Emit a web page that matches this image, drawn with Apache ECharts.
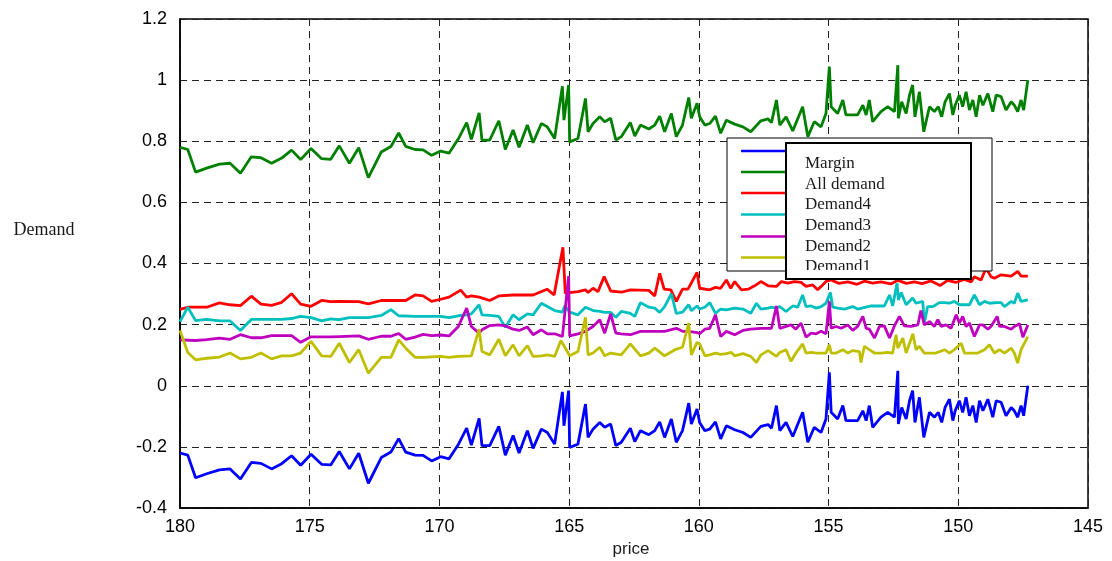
<!DOCTYPE html>
<html>
<head>
<meta charset="utf-8">
<script src="https://cdn.jsdelivr.net/npm/echarts@6/dist/echarts.min.js"></script>
<style>
html,body{margin:0;padding:0;background:#fff;}
#chart{width:1112px;height:561px;}
</style>
</head>
<body>
<div id="chart"></div>
<script>
// ---- data: [price, value] pairs ----
const seriesNames = ['Margin', 'All demand', 'Demand4', 'Demand3', 'Demand2', 'Demand1'];
const xTicks = [180, 175, 170, 165, 160, 155, 150, 145];
const yTicks = [-0.4, -0.2, 0, 0.2, 0.4, 0.6, 0.8, 1, 1.2];

const allDemand = [[180.00,0.780],[179.70,0.773],[179.40,0.699],[178.97,0.712],[178.48,0.725],[178.07,0.728],[177.67,0.695],[177.25,0.749],[176.88,0.746],[176.47,0.728],[176.08,0.745],[175.70,0.771],[175.35,0.740],[174.95,0.776],[174.54,0.743],[174.19,0.741],[173.86,0.785],[173.47,0.728],[173.11,0.779],[172.74,0.681],[172.24,0.765],[171.87,0.783],[171.57,0.827],[171.30,0.783],[170.94,0.773],[170.63,0.772],[170.30,0.754],[169.95,0.768],[169.63,0.761],[169.27,0.808],[168.95,0.861],[168.77,0.806],[168.47,0.893],[168.36,0.804],[168.06,0.804],[167.71,0.867],[167.46,0.773],[167.16,0.837],[166.93,0.780],[166.61,0.853],[166.39,0.795],[166.07,0.858],[165.84,0.847],[165.56,0.809],[165.26,0.980],[165.20,0.869],[165.02,0.984],[164.98,0.798],[164.66,0.809],[164.37,0.940],[164.27,0.831],[164.08,0.858],[163.82,0.880],[163.63,0.864],[163.40,0.875],[163.20,0.804],[162.99,0.815],[162.64,0.861],[162.47,0.817],[162.25,0.853],[161.93,0.840],[161.70,0.853],[161.51,0.882],[161.32,0.831],[161.06,0.891],[160.87,0.815],[160.63,0.853],[160.39,0.943],[160.29,0.875],[160.07,0.924],[159.97,0.880],[159.77,0.853],[159.58,0.858],[159.36,0.882],[159.16,0.826],[158.94,0.869],[158.62,0.856],[158.30,0.847],[158.00,0.831],[157.61,0.867],[157.33,0.873],[157.20,0.861],[157.01,0.935],[156.88,0.853],[156.64,0.880],[156.38,0.834],[156.00,0.913],[155.80,0.815],[155.55,0.864],[155.29,0.847],[155.10,0.891],[154.97,1.044],[154.90,0.913],[154.65,0.891],[154.45,0.935],[154.33,0.886],[153.88,0.886],[153.68,0.918],[153.55,0.886],[153.43,0.935],[153.30,0.864],[152.98,0.897],[152.72,0.913],[152.46,0.897],[152.33,1.049],[152.31,0.875],[152.18,0.929],[152.01,0.891],[151.88,0.951],[151.76,0.984],[151.67,0.880],[151.50,0.962],[151.33,0.831],[151.11,0.913],[150.92,0.897],[150.77,0.913],[150.64,0.880],[150.51,0.929],[150.34,0.956],[150.21,0.886],[150.12,0.918],[149.96,0.951],[149.83,0.913],[149.70,0.962],[149.57,0.902],[149.44,0.935],[149.31,0.880],[149.18,0.951],[149.05,0.918],[148.86,0.956],[148.67,0.897],[148.54,0.951],[148.35,0.946],[148.16,0.902],[147.96,0.929],[147.84,0.918],[147.71,0.897],[147.58,0.935],[147.48,0.902],[147.32,1.000]];

const margin = [[180.00,-0.220],[179.70,-0.227],[179.40,-0.301],[178.97,-0.288],[178.48,-0.275],[178.07,-0.272],[177.67,-0.305],[177.25,-0.251],[176.88,-0.254],[176.47,-0.272],[176.08,-0.255],[175.70,-0.229],[175.35,-0.260],[174.95,-0.224],[174.54,-0.257],[174.19,-0.259],[173.86,-0.215],[173.47,-0.272],[173.11,-0.221],[172.74,-0.319],[172.24,-0.235],[171.87,-0.217],[171.57,-0.173],[171.30,-0.217],[170.94,-0.227],[170.63,-0.228],[170.30,-0.246],[169.95,-0.232],[169.63,-0.239],[169.27,-0.192],[168.95,-0.139],[168.77,-0.194],[168.47,-0.107],[168.36,-0.196],[168.06,-0.196],[167.71,-0.133],[167.46,-0.227],[167.16,-0.163],[166.93,-0.220],[166.61,-0.147],[166.39,-0.205],[166.07,-0.142],[165.84,-0.153],[165.56,-0.191],[165.26,-0.020],[165.20,-0.131],[165.02,-0.016],[164.98,-0.202],[164.66,-0.191],[164.37,-0.060],[164.27,-0.169],[164.08,-0.142],[163.82,-0.120],[163.63,-0.136],[163.40,-0.125],[163.20,-0.196],[162.99,-0.185],[162.64,-0.139],[162.47,-0.183],[162.25,-0.147],[161.93,-0.160],[161.70,-0.147],[161.51,-0.118],[161.32,-0.169],[161.06,-0.109],[160.87,-0.185],[160.63,-0.147],[160.39,-0.057],[160.29,-0.125],[160.07,-0.076],[159.97,-0.120],[159.77,-0.147],[159.58,-0.142],[159.36,-0.118],[159.16,-0.174],[158.94,-0.131],[158.62,-0.144],[158.30,-0.153],[158.00,-0.169],[157.61,-0.133],[157.33,-0.127],[157.20,-0.139],[157.01,-0.065],[156.88,-0.147],[156.64,-0.120],[156.38,-0.166],[156.00,-0.087],[155.80,-0.185],[155.55,-0.136],[155.29,-0.153],[155.10,-0.109],[154.97,0.044],[154.90,-0.087],[154.65,-0.109],[154.45,-0.065],[154.33,-0.114],[153.88,-0.114],[153.68,-0.082],[153.55,-0.114],[153.43,-0.065],[153.30,-0.136],[152.98,-0.103],[152.72,-0.087],[152.46,-0.103],[152.33,0.049],[152.31,-0.125],[152.18,-0.071],[152.01,-0.109],[151.88,-0.049],[151.76,-0.016],[151.67,-0.120],[151.50,-0.038],[151.33,-0.169],[151.11,-0.087],[150.92,-0.103],[150.77,-0.087],[150.64,-0.120],[150.51,-0.071],[150.34,-0.044],[150.21,-0.114],[150.12,-0.082],[149.96,-0.049],[149.83,-0.087],[149.70,-0.038],[149.57,-0.098],[149.44,-0.065],[149.31,-0.120],[149.18,-0.049],[149.05,-0.082],[148.86,-0.044],[148.67,-0.103],[148.54,-0.049],[148.35,-0.054],[148.16,-0.098],[147.96,-0.071],[147.84,-0.082],[147.71,-0.103],[147.58,-0.065],[147.48,-0.098],[147.32,0.000]];

const demand4 = [[180.00,0.250],[179.68,0.257],[178.97,0.257],[178.48,0.271],[178.07,0.265],[177.67,0.262],[177.25,0.293],[176.88,0.267],[176.47,0.263],[176.08,0.273],[175.70,0.301],[175.35,0.267],[174.95,0.260],[174.54,0.279],[174.19,0.275],[173.86,0.276],[173.11,0.275],[172.74,0.268],[172.24,0.279],[171.30,0.279],[170.94,0.297],[170.63,0.294],[170.30,0.276],[169.95,0.283],[169.63,0.290],[169.18,0.313],[168.95,0.290],[168.77,0.294],[168.47,0.290],[168.06,0.279],[167.71,0.294],[167.16,0.297],[166.39,0.297],[165.85,0.316],[165.58,0.297],[165.24,0.453],[165.15,0.303],[164.66,0.308],[164.37,0.314],[164.27,0.305],[164.08,0.319],[163.89,0.308],[163.65,0.357],[163.40,0.310],[162.99,0.306],[162.64,0.314],[161.93,0.312],[161.70,0.294],[161.51,0.368],[161.34,0.316],[161.08,0.314],[160.87,0.276],[160.63,0.316],[160.42,0.316],[160.07,0.371],[159.97,0.319],[159.58,0.314],[159.36,0.322],[159.16,0.319],[158.94,0.346],[158.77,0.319],[158.62,0.341],[158.36,0.314],[158.10,0.316],[157.85,0.327],[157.61,0.341],[157.33,0.327],[157.01,0.325],[156.82,0.341],[156.57,0.336],[156.32,0.341],[156.06,0.338],[155.87,0.325],[155.61,0.330],[155.42,0.314],[155.23,0.330],[155.10,0.341],[154.90,0.346],[154.60,0.335],[154.26,0.340],[153.90,0.332],[153.62,0.342],[153.30,0.336],[152.98,0.340],[152.60,0.333],[152.33,0.345],[152.00,0.335],[151.69,0.340],[151.40,0.334],[151.05,0.343],[150.70,0.328],[150.41,0.345],[150.10,0.338],[149.77,0.348],[149.50,0.340],[149.38,0.357],[149.12,0.346],[148.93,0.385],[148.74,0.357],[148.61,0.352],[148.35,0.363],[147.96,0.359],[147.71,0.374],[147.58,0.359],[147.32,0.359]];

const demand3 = [[180.00,0.210],[179.70,0.257],[179.40,0.213],[178.97,0.217],[178.48,0.212],[178.07,0.212],[177.67,0.181],[177.25,0.217],[176.47,0.217],[176.08,0.217],[175.70,0.220],[175.35,0.227],[174.95,0.223],[174.54,0.212],[174.19,0.219],[173.86,0.216],[173.47,0.223],[172.74,0.223],[172.24,0.230],[171.87,0.249],[171.57,0.229],[170.94,0.227],[169.95,0.227],[169.63,0.223],[169.27,0.229],[168.95,0.232],[168.77,0.235],[168.47,0.265],[168.36,0.232],[168.06,0.230],[167.71,0.227],[167.46,0.191],[167.16,0.232],[166.93,0.216],[166.61,0.235],[166.39,0.232],[166.07,0.270],[165.84,0.259],[165.56,0.246],[165.26,0.241],[165.17,0.261],[164.98,0.241],[164.66,0.232],[164.37,0.257],[164.08,0.246],[163.82,0.243],[163.63,0.240],[163.40,0.240],[163.20,0.224],[162.99,0.243],[162.64,0.237],[162.47,0.227],[162.25,0.272],[161.93,0.257],[161.70,0.254],[161.51,0.240],[161.32,0.259],[161.06,0.301],[160.87,0.237],[160.63,0.241],[160.39,0.265],[160.29,0.246],[160.07,0.261],[159.97,0.251],[159.77,0.257],[159.58,0.272],[159.36,0.237],[159.16,0.251],[158.94,0.248],[158.62,0.254],[158.30,0.251],[158.00,0.237],[157.78,0.270],[157.61,0.251],[157.33,0.254],[157.20,0.257],[157.01,0.254],[156.88,0.259],[156.64,0.243],[156.38,0.261],[156.19,0.257],[156.00,0.297],[155.87,0.259],[155.67,0.261],[155.48,0.254],[155.29,0.259],[155.10,0.270],[154.93,0.305],[154.84,0.257],[154.65,0.254],[154.39,0.251],[154.07,0.259],[153.88,0.251],[153.36,0.261],[152.85,0.261],[152.65,0.297],[152.53,0.261],[152.36,0.335],[152.31,0.281],[152.20,0.305],[152.01,0.265],[151.76,0.287],[151.63,0.270],[151.37,0.276],[151.31,0.205],[151.18,0.259],[150.98,0.259],[150.73,0.272],[150.53,0.272],[150.34,0.270],[150.15,0.276],[149.96,0.265],[149.57,0.265],[149.38,0.297],[149.18,0.265],[148.99,0.276],[148.80,0.270],[148.54,0.272],[148.35,0.272],[148.22,0.259],[147.96,0.276],[147.84,0.270],[147.71,0.303],[147.58,0.276],[147.32,0.281]];

const demand2 = [[180.00,0.150],[179.40,0.148],[178.97,0.151],[178.48,0.156],[178.07,0.152],[177.67,0.167],[177.25,0.157],[176.88,0.157],[176.47,0.164],[175.70,0.164],[175.35,0.142],[174.95,0.160],[174.19,0.160],[173.86,0.161],[173.11,0.163],[172.74,0.152],[172.24,0.162],[171.87,0.162],[171.57,0.171],[171.30,0.152],[170.94,0.159],[170.63,0.168],[170.30,0.164],[169.95,0.166],[169.63,0.163],[169.27,0.194],[168.95,0.254],[168.77,0.194],[168.47,0.172],[168.36,0.183],[168.06,0.197],[167.71,0.199],[167.46,0.196],[167.16,0.185],[166.93,0.181],[166.61,0.192],[166.39,0.167],[166.07,0.183],[165.84,0.170],[165.56,0.170],[165.26,0.161],[165.02,0.359],[164.98,0.163],[164.66,0.170],[164.37,0.178],[164.08,0.194],[163.82,0.216],[163.63,0.172],[163.40,0.235],[163.20,0.172],[162.99,0.170],[162.64,0.167],[162.25,0.178],[161.70,0.178],[161.32,0.178],[160.87,0.188],[160.63,0.178],[160.39,0.178],[160.07,0.174],[159.97,0.170],[159.77,0.185],[159.58,0.188],[159.36,0.232],[159.16,0.161],[158.94,0.178],[158.62,0.167],[158.30,0.181],[158.00,0.185],[157.61,0.188],[157.20,0.188],[157.01,0.261],[156.88,0.188],[156.64,0.194],[156.45,0.199],[156.26,0.185],[156.06,0.205],[155.87,0.159],[155.67,0.172],[155.48,0.170],[155.29,0.178],[155.10,0.170],[154.97,0.276],[154.90,0.188],[154.71,0.194],[154.52,0.188],[154.26,0.199],[154.07,0.181],[153.88,0.194],[153.68,0.227],[153.55,0.188],[153.43,0.185],[153.23,0.156],[153.04,0.194],[152.85,0.196],[152.65,0.156],[152.46,0.196],[152.27,0.227],[152.08,0.196],[151.82,0.194],[151.56,0.199],[151.44,0.246],[151.31,0.199],[151.11,0.210],[150.92,0.194],[150.79,0.216],[150.66,0.194],[150.47,0.199],[150.28,0.188],[150.08,0.232],[149.96,0.205],[149.83,0.227],[149.70,0.194],[149.57,0.205],[149.38,0.161],[149.18,0.199],[149.06,0.199],[148.86,0.185],[148.74,0.194],[148.50,0.227],[148.41,0.194],[148.22,0.194],[147.96,0.185],[147.84,0.194],[147.64,0.203],[147.51,0.159],[147.32,0.199]];

const demand1 = [[180.00,0.181],[179.70,0.109],[179.40,0.085],[178.97,0.090],[178.48,0.094],[178.07,0.107],[177.67,0.088],[177.25,0.093],[176.88,0.107],[176.47,0.088],[176.08,0.098],[175.70,0.098],[175.35,0.107],[174.95,0.145],[174.54,0.098],[174.19,0.096],[173.86,0.139],[173.47,0.076],[173.11,0.118],[172.74,0.041],[172.24,0.093],[171.87,0.093],[171.57,0.150],[171.30,0.123],[170.94,0.093],[170.63,0.093],[169.95,0.096],[169.63,0.093],[169.27,0.096],[168.77,0.098],[168.47,0.185],[168.36,0.112],[168.06,0.101],[167.71,0.152],[167.46,0.098],[167.16,0.134],[166.93,0.098],[166.61,0.131],[166.39,0.096],[166.07,0.098],[165.84,0.101],[165.56,0.096],[165.32,0.148],[165.20,0.131],[164.98,0.098],[164.66,0.112],[164.37,0.224],[164.27,0.101],[164.08,0.107],[163.82,0.126],[163.63,0.098],[163.40,0.107],[162.99,0.101],[162.64,0.137],[162.25,0.098],[161.93,0.107],[161.70,0.123],[161.32,0.098],[160.87,0.120],[160.63,0.126],[160.39,0.205],[160.29,0.101],[160.07,0.142],[159.97,0.137],[159.77,0.098],[159.58,0.101],[159.36,0.107],[159.16,0.103],[158.94,0.105],[158.75,0.109],[158.62,0.098],[158.30,0.105],[158.00,0.096],[157.78,0.076],[157.61,0.101],[157.33,0.115],[157.01,0.096],[156.88,0.109],[156.64,0.118],[156.45,0.080],[156.26,0.107],[156.00,0.137],[155.87,0.107],[155.67,0.109],[155.48,0.107],[155.10,0.107],[154.97,0.134],[154.90,0.107],[154.71,0.107],[154.45,0.118],[154.26,0.107],[154.07,0.115],[153.81,0.112],[153.75,0.076],[153.62,0.129],[153.43,0.118],[153.23,0.107],[152.98,0.107],[152.72,0.109],[152.53,0.107],[152.40,0.167],[152.33,0.123],[152.14,0.156],[152.01,0.107],[151.88,0.139],[151.75,0.170],[151.63,0.118],[151.50,0.129],[151.31,0.107],[150.86,0.107],[150.53,0.118],[150.34,0.107],[150.15,0.118],[149.89,0.139],[149.76,0.107],[149.25,0.107],[148.99,0.118],[148.80,0.134],[148.61,0.107],[148.41,0.118],[148.22,0.107],[147.96,0.123],[147.84,0.107],[147.71,0.074],[147.58,0.118],[147.32,0.161]];

const seriesColors = ['#0000ff', '#008000', '#ff0000', '#00bfbf', '#bf00bf', '#bfbf00'];
const seriesData = [margin, allDemand, demand4, demand3, demand2, demand1];

const chart = echarts.init(document.getElementById('chart'), null, {renderer: 'canvas'});

const sans = "'Liberation Sans', Arial, sans-serif";
const serif = "'Liberation Serif', 'Times New Roman', serif";

// legend graphics (two overlapping boxes as in the picture)
const legendGraphics = [];
legendGraphics.push({type:'rect', shape:{x:727, y:138, width:265, height:133},
  style:{fill:'#fff', stroke:'#000', lineWidth:1}, z:100});
const sampleY = [151, 172, 193, 214.5, 236.5, 257.5];
seriesNames.forEach((n, i) => {
  legendGraphics.push({type:'line', shape:{x1:741, y1:sampleY[i], x2:786, y2:sampleY[i]},
    style:{stroke:seriesColors[i], lineWidth:2.5}, z:101});
});
legendGraphics.push({type:'rect', shape:{x:786, y:143, width:185, height:136},
  style:{fill:'#fff', stroke:'#000', lineWidth:2}, z:102});
const textY = [164, 184.5, 205, 226, 246.5, 267];
seriesNames.forEach((n, i) => {
  legendGraphics.push({type:'text', x:805, y:textY[i],
    style:{text:n, font:"17px " + serif, fill:'#1a1a1a', textVerticalAlign:'middle', textAlign:'left'}, z:103});
});
legendGraphics.push({type:'rect', shape:{x:788, y:270, width:181, height:8},
  style:{fill:'#fff'}, z:104});

const option = {
  animation: false,
  backgroundColor: '#fff',
  grid: {left:180, right:24, top:19, bottom:53, show:true, borderColor:'#000', borderWidth:1.5, backgroundColor:'transparent'},
  xAxis: {
    type:'value', inverse:true, min:145, max:180, interval:5,
    axisLine:{show:true, onZero:false, lineStyle:{color:'#000', width:1.5}},
    axisTick:{show:false},
    splitLine:{show:true, lineStyle:{color:'#222', type:[7,5], width:1}},
    axisLabel:{color:'#000', fontSize:18, fontFamily:sans, margin:10,
      formatter: v => xTicks.includes(v) ? String(v) : ''}
  },
  yAxis: {
    type:'value', min:-0.4, max:1.2, interval:0.2,
    axisLine:{show:true, onZero:false, lineStyle:{color:'#000', width:1.5}},
    axisTick:{show:false},
    splitLine:{show:true, lineStyle:{color:'#222', type:[7,5], width:1}},
    axisLabel:{color:'#000', fontSize:18, fontFamily:sans, margin:13,
      formatter: v => String(+v.toFixed(1))}
  },
  series: seriesNames.map((n, i) => ({
    name:n, type:'line', data:seriesData[i], showSymbol:false, symbol:'none',
    lineStyle:{color:seriesColors[i], width:2.8}, itemStyle:{color:seriesColors[i]},
    z: 2 + i
  })),
  graphic: [
    {type:'text', x:44, y:230, style:{text:'Demand', font:"18px " + serif, fill:'#1a1a1a', textAlign:'center', textVerticalAlign:'middle'}},
    {type:'text', x:631, y:549, style:{text:'price', font:"17px " + sans, fill:'#1a1a1a', textAlign:'center', textVerticalAlign:'middle'}}
  ].concat(legendGraphics)
};
chart.setOption(option);
</script>
</body>
</html>
